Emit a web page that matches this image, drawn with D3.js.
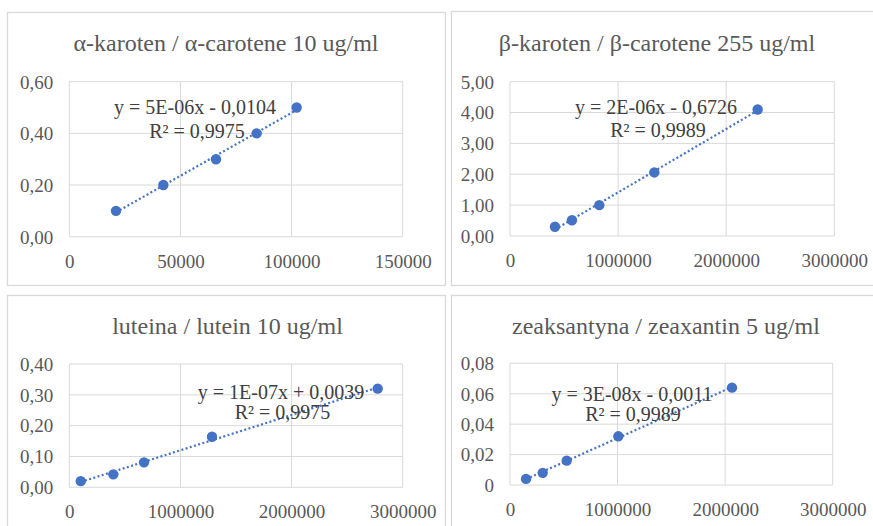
<!DOCTYPE html>
<html><head><meta charset="utf-8">
<script src="https://cdn.jsdelivr.net/npm/d3@7"></script>
<style>
html,body{margin:0;padding:0;background:#fff;}
svg{display:block;}
</style></head>
<body>
<svg id="c" width="873" height="526"></svg>
<script>
// ---- data ----
const titles = ["α-karoten / α-carotene 10 ug/ml", "β-karoten / β-carotene 255 ug/ml", "luteina / lutein 10 ug/ml", "zeaksantyna / zeaxantin 5 ug/ml"];
const equations = ["y = 5E-06x - 0,0104", "y = 2E-06x - 0,6726", "y = 1E-07x + 0,0039", "y = 3E-08x - 0,0011"];
const rSquared = ["R² = 0,9975", "R² = 0,9989", "R² = 0,9975", "R² = 0,9989"];
const alphaX = [21000, 42300, 66000, 84300, 102300];
const alphaY = [0.10, 0.20, 0.30, 0.40, 0.50];
const betaX = [416000, 573000, 826000, 1335000, 2291000];
const betaY = [0.30, 0.51, 1.00, 2.06, 4.10];
const luteinX = [103000, 396000, 672000, 1284000, 2775000];
const luteinY = [0.020, 0.042, 0.081, 0.164, 0.320];
const zeaX = [149000, 304000, 527000, 1007000, 2064000];
const zeaY = [0.004, 0.008, 0.016, 0.032, 0.064];
const xTicks1 = [0, 50000, 100000, 150000];
const xTicks2 = [0, 1000000, 2000000, 3000000];
const yTicks1 = [0, 0.2, 0.4, 0.6];
const yTicks2 = [0, 1, 2, 3, 4, 5];
const yTicks3 = [0, 0.1, 0.2, 0.3, 0.4];
const yTicks4 = [0, 0.02, 0.04, 0.06, 0.08];

// ---- layout ----
const panels = [
  {box:[7,12,438,273], plot:[69.3,402.7,81.7,236.7], xs:alphaX, ys:alphaY, xt:xTicks1, yt:yTicks1, zeroPlain:false,
   title:[226,51], eq:[195,114], r2:[197,138]},
  {box:[451,11,430,274], plot:[510,834.3,81.7,236], xs:betaX, ys:betaY, xt:xTicks2, yt:yTicks2, zeroPlain:false,
   title:[657,51], eq:[656,114], r2:[658,137]},
  {box:[7,295,438,240], plot:[69.3,402.7,364,487.3], xs:luteinX, ys:luteinY, xt:xTicks2, yt:yTicks3, zeroPlain:false,
   title:[227.5,334], eq:[281,399], r2:[282.5,419]},
  {box:[451,295,430,240], plot:[510,832.7,363.3,485], xs:zeaX, ys:zeaY, xt:xTicks2, yt:yTicks4, zeroPlain:true,
   title:[666,334], eq:[632,400.5], r2:[633,420.5]}
];

const FONT = "Liberation Serif";
const svg = d3.select("#c");
const blue = "#4472C4";
const grid = "#d9d9d9";

function label(g, x, y, txt, size, color) {
  g.append("text").attr("x", x).attr("y", y).attr("text-anchor", "middle")
    .style("font-family", FONT).style("font-size", size + "px").style("fill", color)
    .text(txt);
}

panels.forEach((p, i) => {
  const g = svg.append("g");
  g.append("rect").attr("x", p.box[0]+0.5).attr("y", p.box[1]+0.5)
    .attr("width", p.box[2]).attr("height", p.box[3])
    .attr("fill", "#fff").attr("stroke", grid).attr("stroke-width", 1.3);

  const x = d3.scaleLinear().domain([p.xt[0], p.xt[p.xt.length-1]]).range([p.plot[0], p.plot[1]]);
  const y = d3.scaleLinear().domain([p.yt[0], p.yt[p.yt.length-1]]).range([p.plot[3], p.plot[2]]);

  // gridlines
  g.selectAll(".gy").data(p.yt).enter().append("line")
    .attr("x1", p.plot[0]).attr("x2", p.plot[1])
    .attr("y1", d => y(d)).attr("y2", d => y(d))
    .attr("stroke", grid).attr("stroke-width", 1);
  g.selectAll(".gx").data(p.xt).enter().append("line")
    .attr("y1", p.plot[2]).attr("y2", p.plot[3])
    .attr("x1", d => x(d)).attr("x2", d => x(d))
    .attr("stroke", grid).attr("stroke-width", 1);

  // axes (labels only); em-based offsets replaced by plain pixel positions
  const fmtY = d => (p.zeroPlain && d === 0) ? "0" : d3.format(".2f")(d).replace(".", ",");
  const yAxis = d3.axisLeft(y).tickValues(p.yt).tickFormat(fmtY).tickSize(0).tickPadding(16);
  const ya = g.append("g").attr("transform", `translate(${p.plot[0]},0)`).call(yAxis);
  ya.attr("font-family", null).attr("font-size", null).attr("fill", null);
  ya.select(".domain").remove();
  ya.selectAll("text")
    .attr("dy", null).attr("y", 6.3).attr("fill", null).attr("text-anchor", "end")
    .style("font-family", FONT).style("font-size", "19px").style("fill", "#595959");

  const xAxis = d3.axisBottom(x).tickValues(p.xt).tickFormat(d3.format("d")).tickSize(0).tickPadding(18);
  const xa = g.append("g").attr("transform", `translate(0,${p.plot[3]})`).call(xAxis);
  xa.attr("font-family", null).attr("font-size", null).attr("fill", null);
  xa.select(".domain").remove();
  xa.selectAll("text")
    .attr("dy", null).attr("y", 31).attr("fill", null).attr("text-anchor", "middle")
    .style("font-family", FONT).style("font-size", "19px").style("fill", "#595959");

  // title
  label(g, p.title[0], p.title[1], titles[i], 24, "#595959");

  // trendline (least squares fit of the data)
  const pts = p.xs.map((v, k) => [v, p.ys[k]]);
  const mx = d3.mean(p.xs), my = d3.mean(p.ys);
  const slope = d3.sum(pts, d => (d[0]-mx)*(d[1]-my)) / d3.sum(pts, d => (d[0]-mx)**2);
  const icpt = my - slope*mx;
  const x0 = d3.min(p.xs), x1 = d3.max(p.xs);
  g.append("line")
    .attr("x1", x(x0)).attr("y1", y(slope*x0+icpt))
    .attr("x2", x(x1)).attr("y2", y(slope*x1+icpt))
    .attr("stroke", blue).attr("stroke-width", 2.2).attr("stroke-dasharray", "2,2.4");

  // equation text
  label(g, p.eq[0], p.eq[1], equations[i], 20, "#404040");
  label(g, p.r2[0], p.r2[1], rSquared[i], 20, "#404040");

  // markers
  g.selectAll(".pt").data(pts).enter().append("circle")
    .attr("cx", d => x(d[0])).attr("cy", d => y(d[1])).attr("r", 5.2)
    .attr("fill", blue);
});
</script>
</body></html>
